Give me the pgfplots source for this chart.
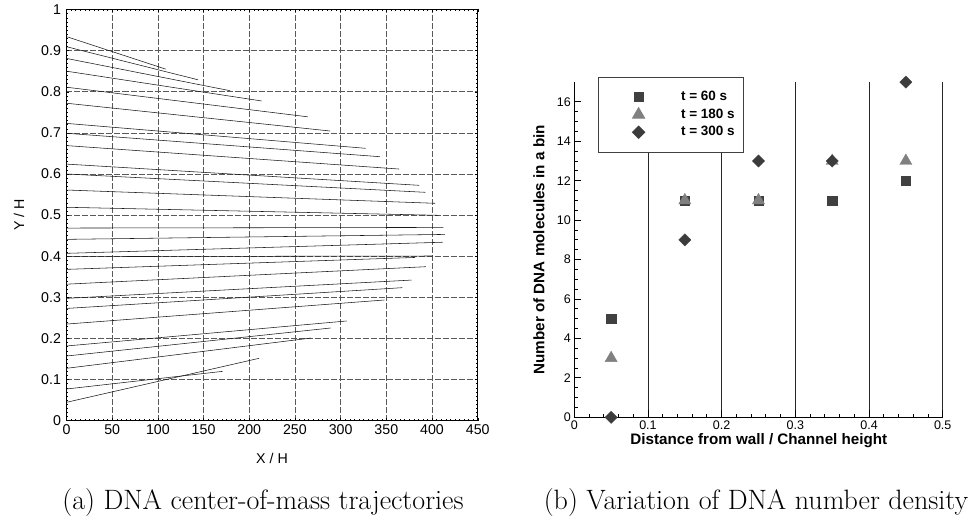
\documentclass[border=0pt]{standalone}
\usepackage{fontspec}
\newfontfamily\arial{Liberation Sans}
\usepackage{pgfplots}
\pgfplotsset{compat=1.18}
\definecolor{sqc}{HTML}{404040}
\definecolor{tric}{HTML}{808080}
\definecolor{diac}{HTML}{3C3C3C}
\tikzset{traj/.style={black!90, line width=0.55pt, no markers}}
\begin{document}
\begin{tikzpicture}
\path[use as bounding box] (0pt,0pt) rectangle (980pt,519pt);
% ---------------- left: trajectories ----------------
\begin{axis}[
  at={(66.5pt,98.3pt)}, anchor=south west,
  scale only axis, width=411.2pt, height=411.2pt,
  xmin=0, xmax=450, ymin=0, ymax=1,
  xtick={0,50,100,150,200,250,300,350,400,450},
  xticklabels={0,50,100,150,200,250,300,350,400,450},
  ytick={0,0.1,0.2,0.3,0.4,0.5,0.6,0.7,0.8,0.9,1},
  yticklabels={0,0.1,0.2,0.3,0.4,0.5,0.6,0.7,0.8,0.9,1},
  minor x tick num=9, minor y tick num=9,
  tick align=inside, major tick length=3pt, minor tick length=2pt,
  tick style={black, line width=0.4pt},
  axis line style={black, line width=0.6pt},
  grid=major, major grid style={black!65, line width=0.6pt, dash pattern=on 6pt off 2pt},
  tick label style={font=\arial\fontsize{14.2}{16}\selectfont},
  yticklabel style={xshift=-2pt},
  xlabel={X / H}, ylabel={Y / H},
  label style={font=\arial\fontsize{14.2}{16}\selectfont},
  xlabel style={at={(axis description cs:0.4998,-0.0907)}, anchor=center},
  ylabel style={at={(axis description cs:-0.1155,0.5)}, anchor=center},
]
\addplot[traj] coordinates {(0,0.934) (108.6,0.855)};
\addplot[traj] coordinates {(0,0.9095) (144,0.829)};
\addplot[traj] coordinates {(0,0.881) (179,0.8025)};
\addplot[traj] coordinates {(0,0.850) (213.6,0.7775)};
\addplot[traj] coordinates {(0,0.811) (264,0.739)};
\addplot[traj] coordinates {(0,0.772) (288.4,0.7045)};
\addplot[traj] coordinates {(0,0.723) (327.4,0.6624)};
\addplot[traj] coordinates {(0,0.699) (343,0.642)};
\addplot[traj] coordinates {(0,0.669) (363.9,0.612)};
\addplot[traj] coordinates {(0,0.624) (386,0.5724)};
\addplot[traj] coordinates {(0,0.600) (392.7,0.5554)};
\addplot[traj] coordinates {(0,0.561) (403.3,0.5287)};
\addplot[traj] coordinates {(0,0.519) (407,0.4995)};
\addplot[traj] coordinates {(0,0.4685) (412.4,0.470)};
\addplot[traj] coordinates {(0,0.441) (414,0.453)};
\addplot[traj] coordinates {(0,0.407) (411.7,0.434)};
\addplot[traj] coordinates {(0,0.399) (401,0.4005)};
\addplot[traj] coordinates {(0,0.368) (381.4,0.397)};
\addplot[traj] coordinates {(0,0.332) (393.4,0.3745)};
\addplot[traj] coordinates {(0,0.2975) (377.8,0.342)};
\addplot[traj] coordinates {(0,0.273) (367.5,0.3235)};
\addplot[traj] coordinates {(0,0.235) (347.8,0.2935)};
\addplot[traj] coordinates {(0,0.1817) (306.6,0.2425)};
\addplot[traj] coordinates {(0,0.1573) (289,0.2254)};
\addplot[traj] coordinates {(0,0.1274) (267.6,0.201)};
\addplot[traj] coordinates {(0,0.0771) (170.9,0.120)};
\addplot[traj] coordinates {(0,0.0447) (210.7,0.1517)};
\end{axis}
% ---------------- right: number density ----------------
\begin{axis}[
  at={(574.3pt,101.7pt)}, anchor=south west,
  scale only axis, width=368.4pt, height=335.2pt,
  xmin=0, xmax=0.5, ymin=0, ymax=17,
  axis x line*=bottom, axis y line*=left,
  axis line style={black, line width=1.1pt, -},
  xtick={0,0.1,0.2,0.3,0.4,0.5},
  xticklabels={0,0.1,0.2,0.3,0.4,0.5},
  ytick={0,2,4,6,8,10,12,14,16},
  yticklabels={0,2,4,6,8,10,12,14,16},
  minor x tick num=4, minor y tick num=3,
  tick align=inside, major tick length=7pt, minor tick length=3.5pt,
  tick style={black, line width=0.9pt},
  xmajorgrids, major grid style={black!85, line width=0.9pt},
  tick label style={font=\arial\fontsize{12.5}{14}\selectfont},
  xlabel={Distance from wall / Channel height},
  ylabel={Number of DNA molecules in a bin},
  label style={font=\arial\bfseries\fontsize{15.2}{17}\selectfont},
  xlabel style={at={(axis description cs:0.501,-0.0707)}, anchor=center},
  ylabel style={at={(axis description cs:-0.0958,0.5)}, anchor=center},
  legend style={at={(rel axis cs:0.0635,1.016)}, anchor=north west,
    draw=black!75, line width=0.9pt, fill=white,
    font=\arial\bfseries\fontsize{13.5}{15}\selectfont,
    inner xsep=7pt, inner ysep=12pt, row sep=1.5pt,
    nodes={inner sep=2pt, text height=9.5pt, text depth=2.5pt},
    /tikz/every odd column/.append style={column sep=34pt}},
  legend cell align=left,
  legend image code/.code={\path (-33pt,-6pt) (6pt,6pt); \draw[#1] plot coordinates {(0pt,0pt)};},
]
\addplot[only marks, mark=square*, mark size=4.6pt, draw=sqc, fill=sqc]
  coordinates {(0.05,5) (0.15,11) (0.25,11) (0.35,11) (0.45,12)};
\addplot[only marks, mark=triangle*, mark size=7pt, draw=tric, fill=tric]
  coordinates {(0.05,3) (0.15,11) (0.25,11) (0.35,13) (0.45,13)};
\addplot[only marks, mark=square*, mark size=4.3pt, mark options={rotate=45}, draw=diac, fill=diac]
  coordinates {(0.05,0) (0.15,9) (0.25,13) (0.35,13) (0.45,17)};
\legend{t = 60 s, t = 180 s, t = 300 s}
\end{axis}
% captions
\node[anchor=base, font=\fontsize{28}{32}\selectfont] at (263pt,9pt) {(a) DNA center-of-mass trajectories};
\node[anchor=base, font=\fontsize{28}{32}\selectfont] at (756pt,9pt) {(b) Variation of DNA number density};
\end{tikzpicture}
\end{document}
